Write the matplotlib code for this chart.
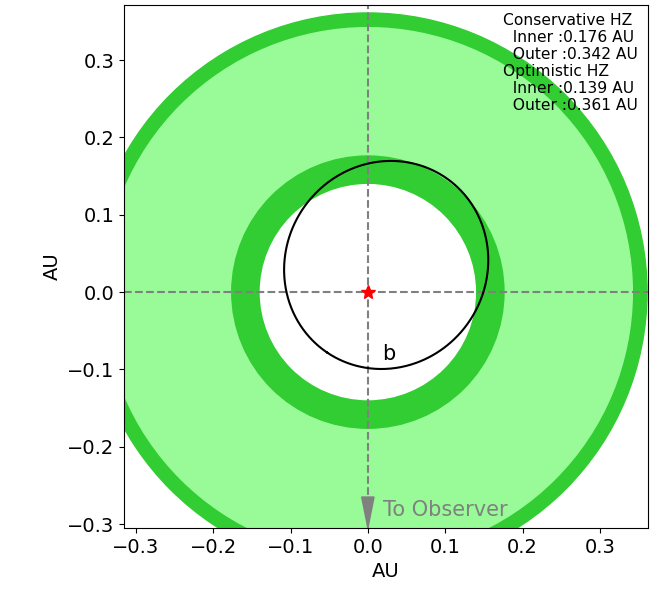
import numpy as np
import matplotlib
matplotlib.use("Agg")
import matplotlib.pyplot as plt
from matplotlib.patches import Circle

# habitable zone limits (AU)
cons_inner = 0.176
cons_outer = 0.342
opt_inner = 0.139
opt_outer = 0.361

# orbit of planet b
planet_name = "b"
semi_major = 0.1366
ecc = 0.31
peri_angle = 236.0  # degrees, direction of periastron

ticks = [-0.3, -0.2, -0.1, 0.0, 0.1, 0.2, 0.3]


def main():
    fig = plt.figure(figsize=(6.59, 6.0), dpi=100)
    ax = fig.add_axes([0.188, 0.12, 0.795, 0.872])

    # optimistic zone drawn first, conservative zone on top, inner hole in white
    ax.add_patch(Circle((0, 0), opt_outer, color='limegreen', zorder=1))
    ax.add_patch(Circle((0, 0), cons_outer, color='palegreen', zorder=1))
    ax.add_patch(Circle((0, 0), cons_inner, color='limegreen', zorder=1))
    ax.add_patch(Circle((0, 0), opt_inner, color='white', zorder=1))

    # keplerian orbit with the star at one focus
    nu = np.linspace(0, 2 * np.pi, 400)
    r = semi_major * (1 - ecc**2) / (1 + ecc * np.cos(nu))
    w = np.radians(peri_angle)
    ax.plot(r * np.cos(nu + w), r * np.sin(nu + w), color='black', lw=1.5, zorder=3)
    ax.text(0.019, -0.088, planet_name, fontsize=15, zorder=4)

    ax.axhline(0, color='gray', ls='--', lw=1.5, zorder=2)
    ax.axvline(0, color='gray', ls='--', lw=1.5, zorder=2)
    ax.plot(0, 0, marker='*', color='red', markersize=10, zorder=5)

    ax.arrow(0, -0.265, 0, -0.04, width=0.001, head_width=0.016, head_length=0.04,
             length_includes_head=True, color='gray', zorder=4)
    ax.text(0.019, -0.282, "To Observer", color='gray', fontsize=15, va='center', zorder=4)

    info = ("Conservative HZ\n  Inner :%.3f AU\n  Outer :%.3f AU\n"
            "Optimistic HZ\n  Inner :%.3f AU\n  Outer :%.3f AU"
            % (cons_inner, cons_outer, opt_inner, opt_outer))
    ax.text(0.981, 0.984, info, transform=ax.transAxes, ha='right', va='top',
            multialignment='left', fontsize=11.2, linespacing=1.17, zorder=6)

    ax.set_xlim(-0.3155, 0.362)
    ax.set_ylim(-0.305, 0.3715)
    ax.set_aspect('equal')
    ax.set_xticks(ticks)
    ax.set_yticks(ticks)
    ax.tick_params(labelsize=14)
    ax.set_xlabel("AU", fontsize=14)
    ax.set_ylabel("AU", fontsize=14)

    fig.savefig("out.png", dpi=100)


if __name__ == "__main__":
    main()
